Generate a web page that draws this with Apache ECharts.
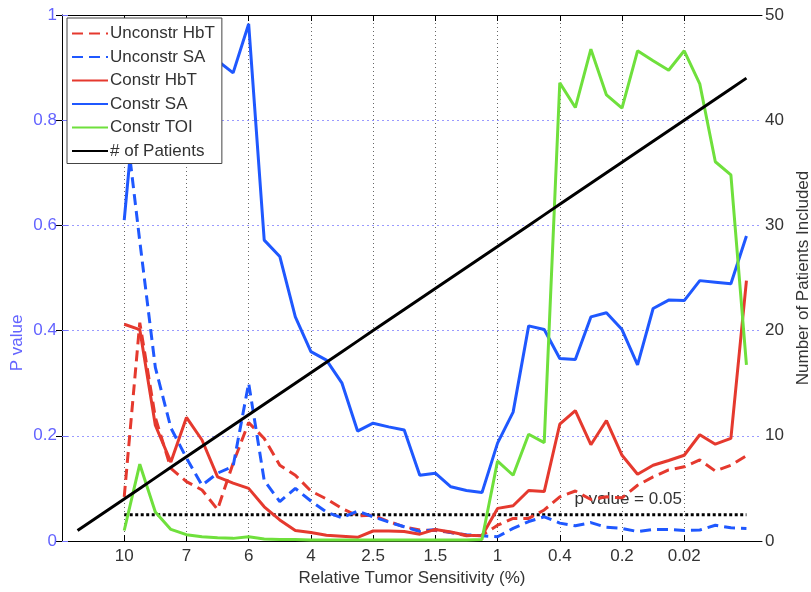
<!DOCTYPE html>
<html>
<head>
<meta charset="utf-8">
<title>P value vs relative tumor sensitivity</title>
<script src="https://cdn.jsdelivr.net/npm/echarts@6/dist/echarts.min.js"></script>
<style>
  html, body { margin: 0; padding: 0; background: #fff; }
  #chart { width: 811px; height: 592px; }
</style>
</head>
<body>
<div id="chart"></div>
<script>
// Sample positions along the sensitivity sweep (one per patient-count step)
const sampleIndex = [1, 2, 3, 4, 5, 6, 7, 8, 9, 10, 11, 12, 13, 14, 15, 16, 17, 18, 19, 20, 21, 22,
  23, 24, 25, 26, 27, 28, 29, 30, 31, 32, 33, 34, 35, 36, 37, 38, 39, 40, 41, 42, 43, 44];

// Labelled ticks on the x axis and their relative tumor sensitivity (%)
const tickPositions = [4, 8, 12, 16, 20, 24, 28, 32, 36, 40];
const tickLabels = ['10', '7', '6', '4', '2.5', '1.5', '1', '0.4', '0.2', '0.02'];

// P values (null where no test was run)
const unconstrHbT = [null, null, null, 0.084, 0.415, 0.235, 0.138, 0.113, 0.097, 0.060, 0.148, 0.225,
  0.195, 0.144, 0.125, 0.095, 0.080, 0.062, 0.048, 0.049, 0.037, 0.027, 0.021, 0.020, 0.016, 0.010,
  0.011, 0.030, 0.043, 0.043, 0.059, 0.084, 0.095, 0.079, 0.084, 0.082, 0.106, 0.122, 0.135, 0.141,
  0.154, 0.133, 0.144, 0.162];
const unconstrSA = [null, null, null, 0.82, 0.57, 0.33, 0.215, 0.158, 0.106, 0.129, 0.142, 0.300,
  0.115, 0.075, 0.100, 0.076, 0.055, 0.044, 0.057, 0.046, 0.036, 0.027, 0.018, 0.022, 0.016, 0.012,
  0.010, 0.008, 0.024, 0.037, 0.046, 0.034, 0.029, 0.035, 0.026, 0.024, 0.018, 0.022, 0.022, 0.020,
  0.021, 0.030, 0.025, 0.024];
const constrHbT = [null, null, null, 0.412, 0.402, 0.220, 0.150, 0.235, 0.192, 0.122, 0.110, 0.100,
  0.065, 0.040, 0.020, 0.016, 0.011, 0.009, 0.007, 0.019, 0.019, 0.018, 0.013, 0.022, 0.017, 0.011,
  0.010, 0.062, 0.067, 0.096, 0.094, 0.222, 0.248, 0.183, 0.229, 0.163, 0.127, 0.144, 0.153, 0.163,
  0.202, 0.184, 0.195, 0.495];
const constrSA = [null, null, null, 0.610, 0.930, 0.910, 0.900, 0.920, 0.910, 0.913, 0.890, 0.983,
  0.572, 0.541, 0.426, 0.360, 0.344, 0.300, 0.209, 0.224, 0.217, 0.211, 0.125, 0.129, 0.103, 0.096,
  0.092, 0.186, 0.245, 0.409, 0.402, 0.347, 0.345, 0.426, 0.434, 0.402, 0.335, 0.442, 0.458, 0.457,
  0.495, 0.492, 0.489, 0.580];
const constrTOI = [null, null, null, 0.020, 0.146, 0.055, 0.022, 0.012, 0.008, 0.006, 0.005, 0.008,
  0.004, 0.003, 0.003, 0.002, 0.002, 0.002, 0.002, 0.002, 0.002, 0.002, 0.002, 0.002, 0.002, 0.002,
  0.003, 0.152, 0.125, 0.203, 0.187, 0.871, 0.824, 0.935, 0.848, 0.823, 0.932, 0.913, 0.895, 0.932,
  0.869, 0.721, 0.696, 0.335];

// Number of patients included at each step (right axis)
const patients = [1, 2, 3, 4, 5, 6, 7, 8, 9, 10, 11, 12, 13, 14, 15, 16, 17, 18, 19, 20, 21, 22,
  23, 24, 25, 26, 27, 28, 29, 30, 31, 32, 33, 34, 35, 36, 37, 38, 39, 40, 41, 42, 43, 44];

// Significance threshold and the span it is drawn over
const pThreshold = 0.05;
const thresholdSpan = [4, 44];
const thresholdText = 'p value = 0.05';

const FONT = 'Liberation Sans, Arial, Helvetica, sans-serif';
const RED = '#e5392e';
const BLUE = '#1f58ff';
const GREEN = '#6fe03c';
const AXIS_BLUE = '#7474ff';

function pairs(values) {
  return sampleIndex.map((x, k) => [x, values[k]]).filter(p => p[1] !== null);
}

function lineSeries(name, values, color, dashed) {
  return {
    name: name,
    type: 'line',
    xAxisIndex: 0,
    yAxisIndex: 0,
    data: pairs(values),
    symbol: 'none',
    showSymbol: false,
    smooth: false,
    lineStyle: { color: color, width: 3, type: dashed ? [11, 6] : 'solid', cap: 'butt' },
    itemStyle: { color: color },
    emphasis: { disabled: true },
    animation: false
  };
}

const chart = echarts.init(document.getElementById('chart'), null, { renderer: 'canvas' });

const sharedX = {
  type: 'value',
  min: 0,
  max: 45,
  axisLine: { show: true, onZero: false, lineStyle: { color: '#000', width: 1 } },
  axisTick: { show: true, inside: true, length: 6, customValues: tickPositions, lineStyle: { color: '#000' } }
};

chart.setOption({
  animation: false,
  backgroundColor: '#fff',
  textStyle: { fontFamily: FONT },
  grid: { left: 62, right: 49, top: 15, bottom: 51, outerBoundsMode: 'none', containLabel: false },
  legend: {
    data: ['Unconstr HbT', 'Unconstr SA', 'Constr HbT', 'Constr SA', 'Constr TOI', '# of Patients'],
    orient: 'vertical',
    left: 67,
    top: 18,
    padding: [7, 7, 4, 4],
    itemWidth: 36,
    itemHeight: 14,
    itemGap: 6.5,
    backgroundColor: '#fff',
    borderColor: '#444',
    borderWidth: 1,
    borderRadius: 0,
    selectedMode: false,
    itemStyle: { opacity: 0 },
    textStyle: { fontFamily: FONT, fontSize: 17, color: '#333', padding: [0, 0, 0, -3] }
  },
  xAxis: [
    Object.assign({}, sharedX, {
      position: 'bottom',
      axisLabel: {
        show: true,
        customValues: tickPositions,
        formatter: v => tickLabels[tickPositions.indexOf(v)],
        fontFamily: FONT,
        fontSize: 17,
        color: '#333',
        margin: 7
      },
      splitLine: { show: true, lineStyle: { type: [1, 3], color: '#666', width: 1 } },
      name: 'Relative Tumor Sensitivity (%)',
      nameLocation: 'middle',
      nameGap: 28,
      nameTextStyle: { fontFamily: FONT, fontSize: 17, color: '#333' }
    }),
    Object.assign({}, sharedX, {
      position: 'top',
      axisLabel: { show: false },
      splitLine: { show: false }
    })
  ],
  yAxis: [
    {
      type: 'value',
      position: 'left',
      min: 0,
      max: 1,
      interval: 0.2,
      axisLine: { show: true, lineStyle: { color: AXIS_BLUE, width: 1 } },
      axisTick: { show: true, inside: true, length: 6, lineStyle: { color: AXIS_BLUE } },
      axisLabel: { fontFamily: FONT, fontSize: 17, color: '#6363ff', margin: 5 },
      splitLine: { show: true, lineStyle: { type: [2, 3], color: '#9a9aff', width: 1 } }
    },
    {
      type: 'value',
      position: 'right',
      min: 0,
      max: 50,
      interval: 10,
      axisLine: { show: true, lineStyle: { color: '#000', width: 1 } },
      axisTick: { show: true, inside: true, length: 6, lineStyle: { color: '#000' } },
      axisLabel: { fontFamily: FONT, fontSize: 17, color: '#333', margin: 3 },
      splitLine: { show: false },
      name: 'Number of Patients Included',
      nameLocation: 'middle',
      nameRotate: 90,
      nameGap: 28,
      nameTextStyle: { fontFamily: FONT, fontSize: 17, color: '#333' }
    }
  ],
  series: [
    lineSeries('Unconstr HbT', unconstrHbT, RED, true),
    lineSeries('Unconstr SA', unconstrSA, BLUE, true),
    lineSeries('Constr HbT', constrHbT, RED, false),
    lineSeries('Constr SA', constrSA, BLUE, false),
    lineSeries('Constr TOI', constrTOI, GREEN, false),
    {
      name: '# of Patients',
      type: 'line',
      xAxisIndex: 0,
      yAxisIndex: 1,
      data: sampleIndex.map((x, k) => [x, patients[k]]),
      symbol: 'none',
      showSymbol: false,
      lineStyle: { color: '#000', width: 3 },
      itemStyle: { color: '#000' },
      emphasis: { disabled: true },
      animation: false
    },
    {
      name: 'threshold',
      type: 'line',
      xAxisIndex: 0,
      yAxisIndex: 0,
      data: thresholdSpan.map(x => [x, pThreshold]),
      symbol: 'none',
      showSymbol: false,
      lineStyle: { color: '#000', width: 3, type: [3, 2.5] },
      itemStyle: { color: '#000' },
      emphasis: { disabled: true },
      silent: true,
      z: 1,
      animation: false
    }
  ]
});

// Annotation for the threshold line and the left axis title
const anchor = chart.convertToPixel({ xAxisIndex: 0, yAxisIndex: 0 }, [thresholdSpan[1] - 7.6, pThreshold]);
chart.setOption({
  graphic: [
    {
      type: 'text',
      z: 1,
      x: anchor[0],
      y: anchor[1] - 15,
      style: {
        text: thresholdText,
        fontFamily: FONT,
        fontSize: 17,
        fill: '#333',
        align: 'center',
        verticalAlign: 'middle'
      },
      silent: true
    },
    {
      type: 'text',
      x: 17,
      y: 343,
      rotation: Math.PI / 2,
      style: {
        text: 'P value',
        fontFamily: FONT,
        fontSize: 17,
        fill: '#6363ff',
        align: 'center',
        verticalAlign: 'middle'
      },
      silent: true
    }
  ]
});
</script>
</body>
</html>
